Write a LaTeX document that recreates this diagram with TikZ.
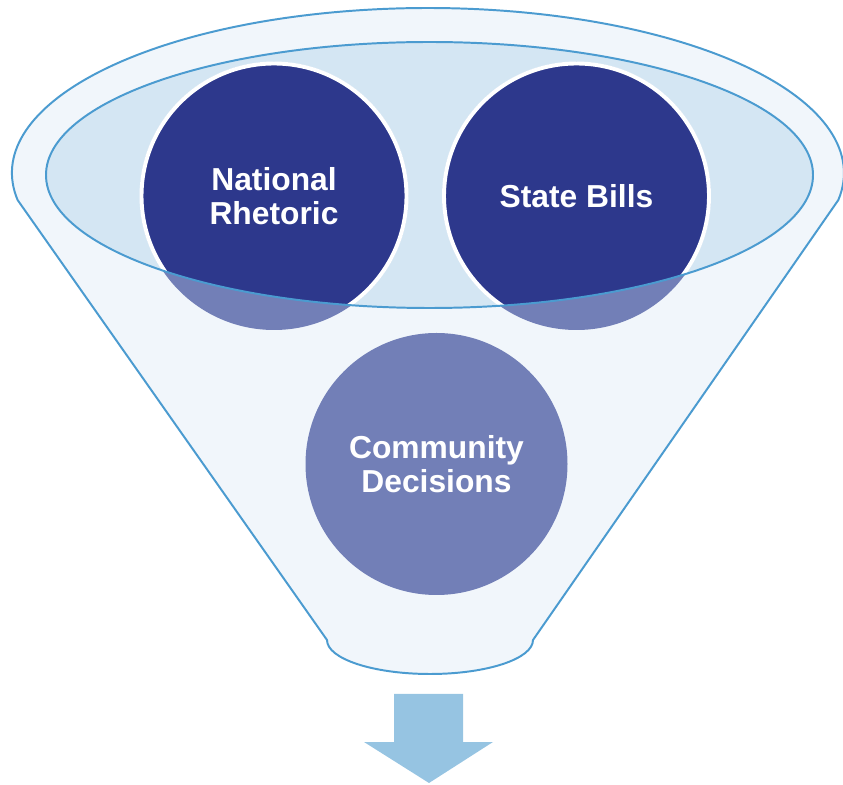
\documentclass[tikz,border=0pt]{standalone}
\usepackage{fontspec}
\setmainfont{Liberation Sans}
\usetikzlibrary{calc}

\definecolor{funnelfill}{HTML}{F1F6FB}
\definecolor{rimfill}{HTML}{D4E6F3}
\definecolor{rimline}{HTML}{4B9BD0}
\definecolor{navy}{HTML}{2D388C}
\definecolor{lavender}{HTML}{727FB7}
\definecolor{arrowblue}{HTML}{96C4E2}

\tikzset{
    circle text/.style={text=white, align=center, font=\bfseries\fontsize{22.6}{24}\selectfont},
    rim line/.style={draw=rimline, line width=1.4pt}
}

\begin{document}
\begin{tikzpicture}[x=0.025cm, y=0.025cm]
        \useasboundingbox (0,0) rectangle (843,784);
        \coordinate (rim) at (429.5,609);
        \coordinate (nr) at (274,588);
        \coordinate (sb) at (576.5,588);
        \coordinate (cd) at (436.5,320);
        % funnel body
        \filldraw[fill=funnelfill, rim line, line join=round] (17.6,584)
            arc[start angle=189.42, end angle=-9.42, x radius=416, y radius=165]
            -- (533,144)
            arc[start angle=0, end angle=-180, x radius=103, y radius=34]
            -- cycle;
        \fill[rimfill] (rim) ellipse[x radius=383.5, y radius=133];
        \foreach \c/\r in {nr/134, sb/134, cd/131} {
                \fill[lavender] (\c) circle[radius=\r];
            }
        \begin{scope}
            \clip (rim) ellipse[x radius=383.5, y radius=133];
            \foreach \c in {nr, sb} {
                    \filldraw[fill=navy, draw=white, line width=2.8pt] (\c) circle[radius=132.5];
                }
        \end{scope}
        \draw[rim line] (rim) ellipse[x radius=383.5, y radius=133];
        \node[circle text] (nrtext) at (nr) {National\\Rhetoric};
        \node[circle text] (sbtext) at (sb) {State Bills};
        \node[circle text] (cdtext) at (cd) {Community\\Decisions};
        % arrow out of the funnel
        \fill[arrowblue] (394,90) -- (463,90) -- (463,42) -- (493,42)
            -- (429,1) -- (364,42) -- (394,42) -- cycle;
    \end{tikzpicture}
\end{document}
